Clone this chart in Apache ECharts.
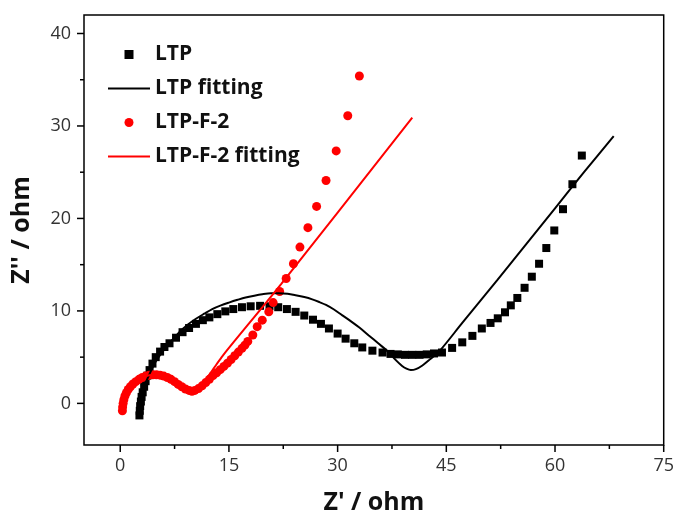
<!DOCTYPE html>
<html>
<head>
<meta charset="utf-8">
<script src="https://cdn.jsdelivr.net/npm/echarts@6/dist/echarts.min.js"></script>
<style>
  html, body { margin: 0; padding: 0; background: #fff; }
  #chart { width: 677px; height: 520px; }
</style>
</head>
<body>
<div id="chart"></div>
<script>
// Nyquist plot data (Z' , Z'')
var ltp = [
  [2.65, -1.3], [2.7, -0.8], [2.75, -0.3], [2.85, 0.2], [2.95, 0.7], [3.1, 1.2],
  [3.3, 1.8], [3.5, 2.4], [3.75, 3.0], [4.05, 3.6], [4.45, 4.3], [4.9, 5.0],
  [5.5, 5.6], [6.1, 6.1], [6.8, 6.5], [7.7, 7.1], [8.6, 7.7], [9.5, 8.15],
  [10.45, 8.6], [11.4, 9.0], [12.3, 9.3], [13.4, 9.65], [14.5, 9.95], [15.6, 10.2],
  [16.8, 10.4], [18.0, 10.5], [19.3, 10.55], [20.6, 10.5], [21.8, 10.4], [23.0, 10.2],
  [24.2, 9.9], [25.4, 9.5], [26.6, 9.05], [27.7, 8.6], [28.8, 8.1], [30.0, 7.55],
  [31.1, 7.0], [32.3, 6.5], [33.4, 6.05], [34.8, 5.7], [36.2, 5.5], [37.3, 5.35],
  [38.3, 5.3], [39.3, 5.25], [40.3, 5.25], [41.3, 5.25], [42.3, 5.3], [43.3, 5.4],
  [44.4, 5.5], [45.8, 6.0], [47.2, 6.6], [48.6, 7.3], [49.9, 8.1], [51.1, 8.7],
  [52.1, 9.2], [53.1, 9.85], [53.9, 10.6], [54.8, 11.4], [55.8, 12.5], [56.8, 13.7],
  [57.8, 15.1], [58.8, 16.8], [59.9, 18.7], [61.1, 21.0], [62.4, 23.7], [63.7, 26.8]
];
var ltpFit = [
  [2.65, -1.0], [2.8, 0.2], [3.1, 1.2], [3.5, 2.2], [4.0, 3.1], [4.8, 4.4],
  [5.85, 5.6], [7.0, 6.7], [8.15, 7.7], [9.3, 8.5], [10.45, 9.15], [11.6, 9.7],
  [12.7, 10.2], [13.9, 10.6], [15.0, 10.9], [16.2, 11.2], [17.3, 11.45], [18.5, 11.65],
  [19.6, 11.8], [20.8, 11.9], [21.9, 11.9], [23.1, 11.85], [24.2, 11.7], [25.4, 11.5],
  [26.5, 11.25], [27.5, 10.95], [28.4, 10.65], [29.5, 10.15], [30.6, 9.55], [31.8, 8.9],
  [33.0, 8.2], [34.3, 7.35], [35.6, 6.5], [37.1, 5.5], [38.0, 4.7], [38.9, 4.05],
  [39.5, 3.75], [40.1, 3.6], [40.8, 3.7], [41.7, 4.1], [42.8, 4.8], [44.0, 5.6],
  [47.2, 8.7], [52.0, 13.3], [56.0, 17.2], [60.0, 21.1], [64.0, 25.0], [68.1, 28.9]
];
var ltpF2 = [
  [0.3, -0.8], [0.33, -0.4], [0.4, 0.0], [0.5, 0.4], [0.65, 0.8], [0.85, 1.15],
  [1.1, 1.5], [1.4, 1.8], [1.75, 2.1], [2.15, 2.35], [2.6, 2.6], [3.05, 2.8],
  [3.5, 2.95], [4.0, 3.05], [4.5, 3.1], [5.0, 3.1], [5.5, 3.05], [6.0, 2.95],
  [6.5, 2.8], [7.0, 2.6], [7.5, 2.35], [8.0, 2.05], [8.5, 1.8], [9.0, 1.55],
  [9.5, 1.4], [9.9, 1.3], [10.3, 1.4], [10.8, 1.6], [11.3, 1.9], [11.8, 2.25],
  [12.3, 2.6], [12.8, 3.0], [13.3, 3.3], [13.8, 3.65], [14.3, 4.0], [14.8, 4.35],
  [15.3, 4.75], [15.8, 5.15], [16.3, 5.55], [16.8, 5.95], [17.2, 6.3], [17.6, 6.7],
  [18.3, 7.4], [18.9, 8.3], [19.6, 9.0], [20.5, 9.9], [21.1, 10.9], [22.0, 12.1],
  [22.9, 13.5], [23.9, 15.1], [24.8, 16.9], [25.9, 19.0], [27.1, 21.3], [28.4, 24.1],
  [29.8, 27.3], [31.4, 31.1], [33.0, 35.4]
];
var ltpF2Fit = [
  [0.3, -0.7], [0.45, 0.2], [0.8, 1.0], [1.4, 1.75], [2.2, 2.35], [3.1, 2.8],
  [4.0, 3.05], [5.0, 3.1], [6.0, 2.95], [7.0, 2.6], [8.0, 2.1], [9.0, 1.6],
  [9.8, 1.35], [10.5, 1.5], [11.3, 2.1], [12.2, 3.0], [13.0, 3.9], [14.0, 5.0],
  [15.0, 6.0], [22.2, 12.9], [40.3, 30.9]
];
var xTicks = [0, 15, 30, 45, 60, 75];
var xMinor = [7.5, 22.5, 37.5, 52.5, 67.5];
var yTicks = [0, 10, 20, 30, 40];
var yMinor = [5, 15, 25, 35];

var xMin = -5, xMax = 75, yMin = -4.5, yMax = 42;
var font = '"Open Sans", "Liberation Sans", sans-serif';
var chart = echarts.init(document.getElementById('chart'));

chart.setOption({
  backgroundColor: '#fff',
  animation: false,
  grid: {
    left: 84, right: 12, top: 15, bottom: 68,
    show: true, borderColor: '#000', borderWidth: 1.5
  },
  legend: {
    orient: 'vertical',
    left: 107, top: 44,
    padding: 0,
    itemWidth: 42, itemHeight: 9, itemGap: 13,
    symbolKeepAspect: true,
    textStyle: { fontFamily: font, fontSize: 21, fontWeight: 'bold', color: '#111', lineHeight: 20 },
    data: [
      { name: 'LTP', icon: 'path://M0,0H10V10H0Z' },
      { name: 'LTP fitting', itemStyle: { opacity: 0, borderWidth: 0 } },
      { name: 'LTP-F-2', icon: 'circle' },
      { name: 'LTP-F-2 fitting', itemStyle: { opacity: 0, borderWidth: 0 } }
    ]
  },
  xAxis: {
    type: 'value', min: xMin, max: xMax,
    splitLine: { show: false },
    axisLine: { show: false },
    axisTick: { show: false },
    name: "Z' / ohm", nameLocation: 'middle', nameGap: 45,
    nameTextStyle: { fontFamily: font, fontSize: 25, fontWeight: 'bold', color: '#111' },
    axisLabel: { customValues: xTicks, margin: 12, fontFamily: font, fontSize: 18, color: '#333' }
  },
  yAxis: {
    type: 'value', min: yMin, max: yMax,
    splitLine: { show: false },
    axisLine: { show: false },
    axisTick: { show: false },
    name: "Z'' / ohm", nameLocation: 'middle', nameGap: 50, nameRotate: 90,
    nameTextStyle: { fontFamily: font, fontSize: 25, fontWeight: 'bold', color: '#111' },
    axisLabel: { customValues: yTicks, margin: 13, fontFamily: font, fontSize: 18, color: '#333' }
  },
  series: [
    {
      name: 'LTP', type: 'scatter', data: ltp,
      symbol: 'rect', symbolSize: 8,
      itemStyle: { color: '#000', opacity: 1 }
    },
    {
      name: 'LTP fitting', type: 'line', data: ltpFit,
      showSymbol: false, symbol: 'none', smooth: 0.3,
      lineStyle: { color: '#000', width: 2 }, itemStyle: { color: '#000' }
    },
    {
      name: 'LTP-F-2', type: 'scatter', data: ltpF2,
      symbol: 'circle', symbolSize: 9,
      itemStyle: { color: '#ff0000', opacity: 1 }
    },
    {
      name: 'LTP-F-2 fitting', type: 'line', data: ltpF2Fit,
      showSymbol: false, symbol: 'none', smooth: 0.3,
      lineStyle: { color: '#ff0000', width: 2 }, itemStyle: { color: '#ff0000' }
    }
  ]
});

// outward tick marks on the frame, placed through the chart's own scales
var ticks = [];
function addTicks(values, dir, len) {
  values.forEach(function (v) {
    var p = chart.convertToPixel({ gridIndex: 0 }, dir === 'x' ? [v, yMin] : [xMin, v]);
    ticks.push({
      type: 'rect', z: 100,
      shape: dir === 'x'
        ? { x: p[0] - 0.75, y: p[1], width: 1.5, height: len }
        : { x: p[0] - len, y: p[1] - 0.75, width: len, height: 1.5 },
      style: { fill: '#000' }
    });
  });
}
addTicks(xTicks, 'x', 7);
addTicks(xMinor, 'x', 4);
addTicks(yTicks, 'y', 7);
addTicks(yMinor, 'y', 4);
chart.setOption({ graphic: ticks });
</script>
</body>
</html>
